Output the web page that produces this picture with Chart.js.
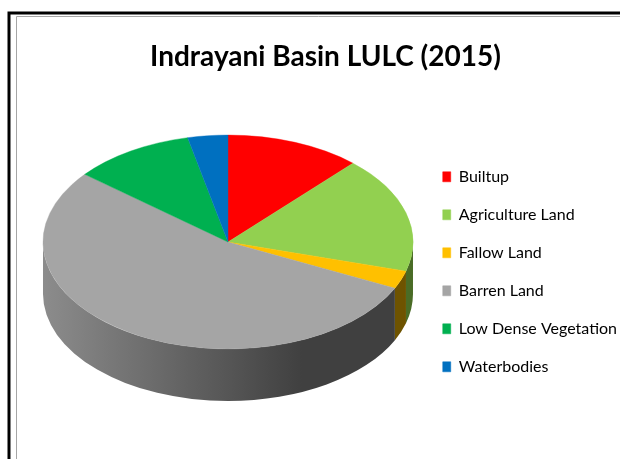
<!DOCTYPE html>
<html>
<head>
<meta charset="utf-8">
<script src="https://cdn.jsdelivr.net/npm/chart.js@4.4.0/dist/chart.umd.min.js"></script>
<style>
    html, body { margin: 0; padding: 0; background: #fff; }
    #wrap { width: 620px; height: 459px; }
</style>
</head>
<body>
<div id="wrap"><canvas id="lulcChart" width="620" height="459"></canvas></div>
<script>
// LULC classes and their share of the basin (%)
const classNames = ['Builtup', 'Agriculture Land', 'Fallow Land', 'Barren Land', 'Low Dense Vegetation', 'Waterbodies'];
const areaShare = [11.8, 17.6, 2.7, 53.8, 10.6, 3.5];
const chartTitle = 'Indrayani Basin LULC (2015)';

// Slice colours (top face) and the darker tones used for the rim
const sliceColors = ['#ff0000', '#92d050', '#ffc000', '#a5a5a5', '#00b050', '#0070c0'];
const rimLight = ['#c40000', '#76aa3e', '#a88000', '#8c8c8c', '#00893f', '#00589a'];
const rimDark = ['#800000', '#4a6c26', '#6e5300', '#404040', '#005a29', '#003a66'];

// Layout of the tilted pie
const PIE_CX = 228;   // centre of the top face on screen
const PIE_CY = 242;
const TILT = 0.578;   // vertical squash of the disc
const DEPTH = 52;     // thickness of the disc, px

// Frame around the whole chart, like the Excel chart border
const framePlugin = {
    id: 'frame',
    beforeDraw(chart) {
        const ctx = chart.ctx;
        ctx.save();
        ctx.strokeStyle = '#000';
        ctx.lineWidth = 3;
        ctx.beginPath();
        ctx.moveTo(9, 480);
        ctx.lineTo(9, 13);
        ctx.lineTo(640, 13);
        ctx.stroke();
        ctx.strokeStyle = '#a6a6a6';
        ctx.lineWidth = 1;
        ctx.beginPath();
        ctx.moveTo(16.5, 480);
        ctx.lineTo(16.5, 16.5);
        ctx.lineTo(640, 16.5);
        ctx.stroke();
        ctx.restore();
    }
};

// Squash the pie into an ellipse and paint the visible rim under it
const pie3dPlugin = {
    id: 'pie3d',
    beforeDatasetsDraw(chart) {
        const meta = chart.getDatasetMeta(0);
        if (!meta.data.length) return;
        const ctx = chart.ctx;
        const c = meta.data[0];
        ctx.save();
        ctx.translate(PIE_CX, PIE_CY);
        ctx.scale(1, TILT);
        ctx.translate(-c.x, -c.y);
        const depth = DEPTH / TILT;

        meta.data.forEach((arc, i) => {
            // only the front half of the rim can be seen
            const a0 = Math.max(arc.startAngle, 0);
            const a1 = Math.min(arc.endAngle, Math.PI);
            if (a1 <= a0) return;
            const r = arc.outerRadius;
            const grad = ctx.createLinearGradient(arc.x - r, 0, arc.x + r, 0);
            grad.addColorStop(0, rimLight[i]);
            grad.addColorStop(0.7, rimDark[i]);
            grad.addColorStop(1, rimDark[i]);
            ctx.beginPath();
            ctx.arc(arc.x, arc.y, r, a0, a1);
            ctx.lineTo(arc.x + r * Math.cos(a1), arc.y + depth + r * Math.sin(a1));
            ctx.arc(arc.x, arc.y + depth, r, a1, a0, true);
            ctx.closePath();
            ctx.fillStyle = grad;
            ctx.fill();
        });
    },
    afterDatasetsDraw(chart) {
        if (chart.getDatasetMeta(0).data.length) chart.ctx.restore();
    }
};

const ctx = document.getElementById('lulcChart').getContext('2d');
const lulcChart = new Chart(ctx, {
    type: 'pie',
    data: {
        labels: classNames,
        datasets: [{
            data: areaShare,
            backgroundColor: sliceColors,
            borderColor: sliceColors,
            borderWidth: 0.5,
            radius: 185,
        }],
    },
    plugins: [framePlugin, pie3dPlugin],
    options: {
        responsive: false,
        animation: false,
        layout: {
            padding: { left: 24, right: -7, top: 10, bottom: 2 },
        },
        plugins: {
            title: {
                display: true,
                text: chartTitle,
                color: '#000',
                font: { family: 'Lato', weight: 'bold', size: 28 },
                padding: { top: 30, bottom: 13 },
            },
            legend: {
                position: 'right',
                fullSize: false,
                labels: {
                    color: '#000',
                    boxWidth: 8,
                    boxHeight: 10,
                    padding: 22,
                    font: { family: 'Lato', size: 16 },
                },
            },
            tooltip: { enabled: false },
        },
    },
});
</script>
</body>
</html>
